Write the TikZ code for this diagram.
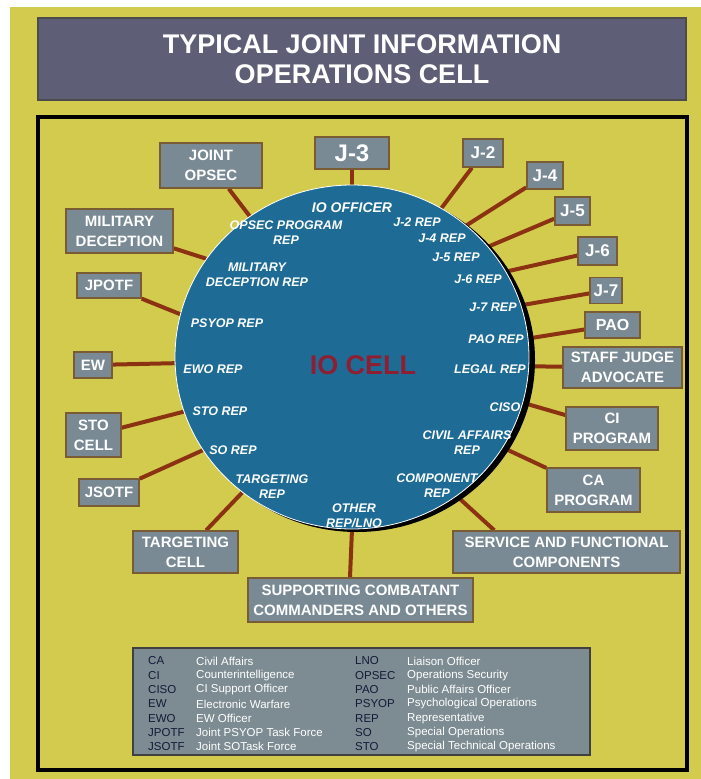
\documentclass[tikz,border=0pt]{standalone}
\usepackage{fontspec}
\setmainfont{Liberation Sans}
\usetikzlibrary{positioning, shapes.geometric}

\definecolor{bgyellow}{HTML}{D3CB4E}
\definecolor{titlegray}{HTML}{5E5E76}
\definecolor{cellblue}{HTML}{1E6C96}
\definecolor{boxgray}{HTML}{7A8A94}
\definecolor{boxedge}{HTML}{7A5C34}
\definecolor{linkred}{HTML}{8A3212}
\definecolor{legendgray}{HTML}{7D8C92}
\definecolor{abbrblue}{HTML}{141A38}
\definecolor{cellred}{HTML}{8E1F33}

\pgfdeclarelayer{back}
\pgfdeclarelayer{links}
\pgfsetlayers{back,links,main}

\tikzset{
    graybox/.style={rectangle, draw=boxedge, fill=boxgray, line width=1.5pt, inner sep=0pt, text=white, font=\fontsize{15}{20}\selectfont\bfseries, align=center},
    jbox/.style={graybox, font=\fontsize{17}{20}\selectfont\bfseries},
    replabel/.style={text=white, font=\fontsize{12.5}{15}\selectfont\bfseries\itshape, align=center, inner sep=0pt},
    mylink/.style={draw=linkred, line width=4pt},
    legabbr/.style={anchor=west, text=abbrblue, font=\fontsize{11.5}{13}\selectfont, inner sep=0pt},
    legtext/.style={anchor=west, text=white, font=\fontsize{11.5}{13}\selectfont, inner sep=0pt}
}

\begin{document}
\begin{tikzpicture}[x=1pt, y=-1pt]

        \useasboundingbox (0,0) rectangle (701,779);
        \begin{pgfonlayer}{back}
            \fill[white] (0,0) rectangle (701,779);
            \fill[bgyellow] (10,7) rectangle (701,779);
        \end{pgfonlayer}

        % ------------------
        % title and frame
        % ------------------

        \node[rectangle, draw=black!70, fill=titlegray, line width=1.2pt, minimum width=648pt, minimum height=82pt, text=white, align=center, font=\fontsize{27}{30}\selectfont\bfseries] (titlebar) at (362,59) {TYPICAL JOINT INFORMATION\\OPERATIONS CELL};
        \draw[line width=3.5pt] (38,117) rectangle (687,770);

        % ------------------
        % the cell
        % ------------------

        \fill[black] (357,360) ellipse [x radius=178, y radius=172];
        \node[ellipse, fill=cellblue, draw=white, line width=0.8pt, minimum width=354pt, minimum height=344pt, inner sep=0pt] (cell) at (352,357) {};
        \node[text=cellred, font=\fontsize{27}{30}\selectfont\bfseries] (iocell) at (363,365) {IO CELL};

        \node[replabel, font=\fontsize{14}{15}\selectfont\bfseries\itshape] (rofficer) at (352,208) {IO OFFICER};
        \node[replabel] (ropsec) at (286,233) {OPSEC PROGRAM\\REP};
        \node[replabel] (rjtwo) at (417,222) {J-2 REP};
        \node[replabel] (rjfour) at (442,238) {J-4 REP};
        \node[replabel] (rjfive) at (456,257) {J-5 REP};
        \node[replabel] (rjsix) at (478,279) {J-6 REP};
        \node[replabel] (rjseven) at (493,307) {J-7 REP};
        \node[replabel] (rpao) at (496,339) {PAO REP};
        \node[replabel] (rmildec) at (257,275) {MILITARY\\DECEPTION REP};
        \node[replabel] (rpsyop) at (227,323) {PSYOP REP};
        \node[replabel] (rewo) at (213,369) {EWO REP};
        \node[replabel] (rlegal) at (490,369) {LEGAL REP};
        \node[replabel] (rsto) at (220,411) {STO REP};
        \node[replabel] (rciso) at (505,407) {CISO};
        \node[replabel] (rcivil) at (467,443) {CIVIL AFFAIRS\\REP};
        \node[replabel] (rso) at (233,450) {SO REP};
        \node[replabel] (rtarget) at (272,487) {TARGETING\\REP};
        \node[replabel] (rcomp) at (437,486) {COMPONENT\\REP};
        \node[replabel] (rother) at (354,516) {OTHER\\REP/LNO};

        % ------------------
        % outer boxes
        % ------------------

        \node[graybox, minimum width=102pt, minimum height=45pt] (opsec) at (211,165.5) {JOINT\\OPSEC};
        \node[graybox, minimum width=74pt, minimum height=32pt, font=\fontsize{24}{26}\selectfont\bfseries] (jthree) at (352,153) {J-3};
        \node[jbox, minimum width=40pt, minimum height=28pt] (jtwo) at (483,153) {J-2};
        \node[jbox, minimum width=36pt, minimum height=27pt] (jfour) at (545,175.5) {J-4};
        \node[jbox, minimum width=35pt, minimum height=28pt] (jfive) at (572.5,211) {J-5};
        \node[jbox, minimum width=39pt, minimum height=28pt] (jsix) at (597.5,251) {J-6};
        \node[jbox, minimum width=32pt, minimum height=26pt] (jseven) at (606,290.5) {J-7};
        \node[graybox, minimum width=55pt, minimum height=26pt, font=\fontsize{16}{20}\selectfont\bfseries] (pao) at (612.5,325) {PAO};
        \node[graybox, minimum width=119pt, minimum height=41pt] (judge) at (622.5,367.5) {STAFF JUDGE\\ADVOCATE};
        \node[graybox, minimum width=92pt, minimum height=43pt] (ciprog) at (612,428.5) {CI\\PROGRAM};
        \node[graybox, minimum width=93pt, minimum height=44pt] (caprog) at (593.5,490) {CA\\PROGRAM};
        \node[graybox, minimum width=227pt, minimum height=42pt] (service) at (566.5,552) {SERVICE AND FUNCTIONAL\\COMPONENTS};
        \node[graybox, minimum width=225pt, minimum height=44pt] (support) at (360.5,600) {SUPPORTING COMBATANT\\COMMANDERS AND OTHERS};
        \node[graybox, minimum width=105pt, minimum height=42pt] (target) at (185.5,552) {TARGETING\\CELL};
        \node[graybox, minimum width=60pt, minimum height=27pt] (jsotf) at (109,492.5) {JSOTF};
        \node[graybox, minimum width=55pt, minimum height=44pt] (stocell) at (93.5,435) {STO\\CELL};
        \node[graybox, minimum width=38pt, minimum height=26pt] (ew) at (93,365) {EW};
        \node[graybox, minimum width=64pt, minimum height=25pt] (jpotf) at (109,285.5) {JPOTF};
        \node[graybox, minimum width=107pt, minimum height=44pt] (mildec) at (119.5,231) {MILITARY\\DECEPTION};

        % ------------------
        % links
        % ------------------

        \begin{pgfonlayer}{links}
            \draw[mylink] (opsec) -- (cell.126);
            \draw[mylink] (jthree) -- (cell.90);
            \draw[mylink] (jtwo) -- (cell.59);
            \draw[mylink] (jfour) -- (cell.49);
            \draw[mylink] (jfive) -- (cell.39);
            \draw[mylink] (jsix) -- (cell.29);
            \draw[mylink] (jseven) -- (cell.17);
            \draw[mylink] (pao) -- (cell.6.5);
            \draw[mylink] (judge) -- (cell.-3);
            \draw[mylink] (ciprog) -- (cell.-15);
            \draw[mylink] (caprog) -- (cell.-31);
            \draw[mylink] ([xshift=42pt]service.north west) -- (cell.-53);
            \draw[mylink] ([xshift=-10.5pt]support.north) -- (cell.-90);
            \draw[mylink] (target) -- (cell.-129);
            \draw[mylink] (jsotf) -- (cell.-148.5);
            \draw[mylink] (stocell) -- (cell.-162.5);
            \draw[mylink] (ew) -- (cell.-178);
            \draw[mylink] (jpotf) -- (cell.166);
            \draw[mylink] (mildec) -- (cell.146);
        \end{pgfonlayer}

        % ------------------
        % legend
        % ------------------

        \node[rectangle, draw=black!75, fill=legendgray, line width=1.5pt, minimum width=457pt, minimum height=107pt] (legend) at (361.5,701.5) {};
        \foreach \abbr/\full [count=\i] in {CA/Civil Affairs, CI/Counterintelligence, CISO/CI Support Officer, EW/Electronic Warfare, EWO/EW Officer, JPOTF/Joint PSYOP Task Force, JSOTF/Joint SOTask Force}{
            \node[legabbr] (leftabbr\i) at (148,{646.7+14.3*\i}) {\abbr};
            \node[legtext] (lefttext\i) at (196,{646.7+14.3*\i}) {\full};
        }
        \foreach \abbr/\full [count=\i] in {LNO/Liaison Officer, OPSEC/Operations Security, PAO/Public Affairs Officer, PSYOP/Psychological Operations, REP/Representative, SO/Special Operations, STO/Special Technical Operations}{
            \node[legabbr] (rightabbr\i) at (355,{646.7+14.3*\i}) {\abbr};
            \node[legtext] (righttext\i) at (407,{646.7+14.3*\i}) {\full};
        }

    \end{tikzpicture}
\end{document}
